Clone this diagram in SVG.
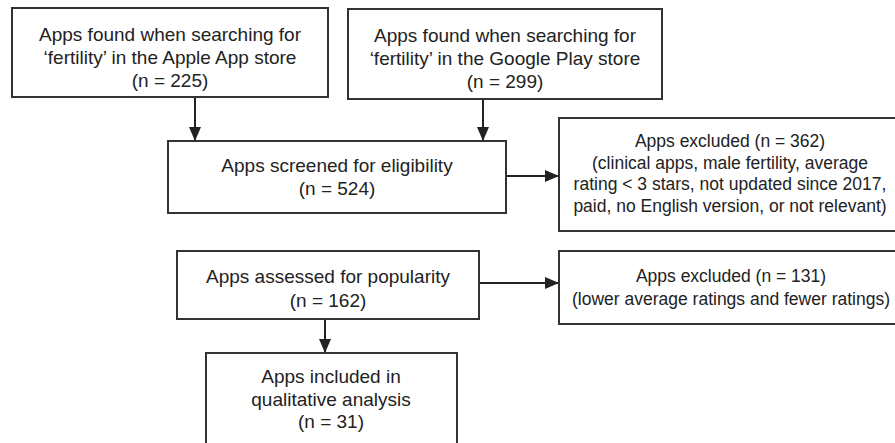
<svg xmlns="http://www.w3.org/2000/svg" width="895" height="443" viewBox="0 0 895 443">
<defs>
<style>
.box{fill:#fff;stroke:#333;stroke-width:2}
.t{font-family:"Liberation Sans",Arial,sans-serif;font-size:19px;fill:#222;text-anchor:middle}
.s{font-size:17.5px}
.c{stroke:#222;stroke-width:2;fill:none;marker-end:url(#ah)}
</style>
<marker id="ah" markerWidth="7" markerHeight="6" refX="7" refY="3" orient="auto" markerUnits="strokeWidth">
<path d="M0,0 L7,3 L0,6 Z" fill="#222"/>
</marker>
</defs>
<rect width="895" height="443" fill="#fff"/>
<g id="connectors">
<line class="c" x1="195" y1="97" x2="195" y2="141"/>
<line class="c" x1="483" y1="99" x2="483" y2="141"/>
<line class="c" x1="506" y1="176" x2="559" y2="176"/>
<line class="c" x1="325" y1="319" x2="325" y2="353"/>
<line class="c" x1="479" y1="283" x2="559" y2="283"/>
</g>
<g id="apple">
<rect class="box" x="12" y="8" width="316" height="89"/>
<text class="t" x="170" y="41">Apps found when searching for</text>
<text class="t" x="170" y="64">‘fertility’ in the Apple App store</text>
<text class="t" x="170" y="87">(n = 225)</text>
</g>
<g id="google">
<rect class="box" x="348" y="9" width="314" height="90"/>
<text class="t" x="505" y="42">Apps found when searching for</text>
<text class="t" x="505" y="65">‘fertility’ in the Google Play store</text>
<text class="t" x="505" y="88">(n = 299)</text>
</g>
<g id="screened">
<rect class="box" x="168" y="141" width="338" height="72"/>
<text class="t" x="337" y="172">Apps screened for eligibility</text>
<text class="t" x="337" y="195">(n = 524)</text>
</g>
<g id="excluded1">
<rect class="box" x="559" y="118" width="345" height="113"/>
<text class="t s" x="730" y="147">Apps excluded (n = 362)</text>
<text class="t s" x="730" y="168.5">(clinical apps, male fertility, average</text>
<text class="t s" x="730" y="190">rating &lt; 3 stars, not updated since 2017,</text>
<text class="t s" x="730" y="211.5">paid, no English version, or not relevant)</text>
</g>
<g id="assessed">
<rect class="box" x="177" y="251" width="302" height="68"/>
<text class="t" x="328" y="283">Apps assessed for popularity</text>
<text class="t" x="328" y="307">(n = 162)</text>
</g>
<g id="excluded2">
<rect class="box" x="559" y="251" width="345" height="73"/>
<text class="t s" x="731" y="282">Apps excluded (n = 131)</text>
<text class="t s" x="731" y="305">(lower average ratings and fewer ratings)</text>
</g>
<g id="included">
<rect class="box" x="206" y="353" width="251" height="100"/>
<text class="t" x="331" y="383">Apps included in</text>
<text class="t" x="331" y="406">qualitative analysis</text>
<text class="t" x="331" y="428">(n = 31)</text>
</g>
</svg>
